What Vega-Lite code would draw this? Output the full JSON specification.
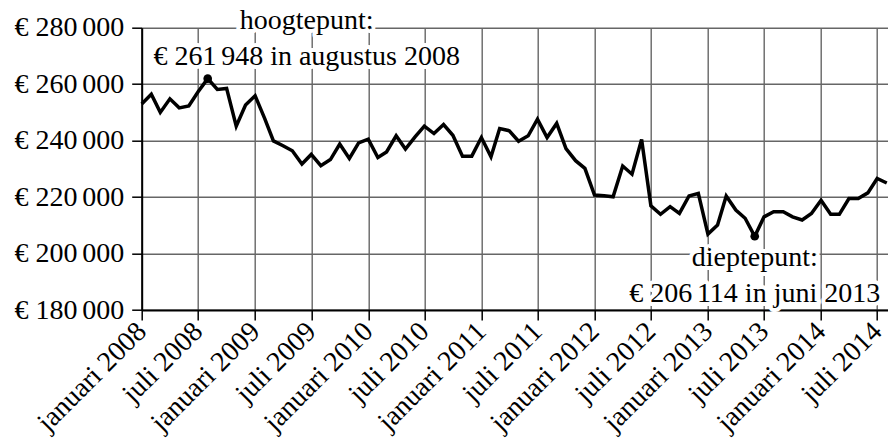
{
  "$schema": "https://vega.github.io/schema/vega-lite/v6.json",
  "width": 746.3,
  "height": 282.3,
  "autosize": {"type": "none"},
  "padding": {"left": 141.7, "top": 27.7, "right": 0, "bottom": 138},
  "background": "white",
  "config": {
    "view": {"stroke": null},
    "font": "Liberation Serif",
    "axis": {
      "labelFont": "Liberation Serif",
      "labelFontSize": 28,
      "labelColor": "black",
      "domainColor": "black",
      "domainWidth": 2,
      "tickColor": "black",
      "tickWidth": 1.5,
      "tickSize": 10,
      "gridColor": "#666666",
      "gridWidth": 1.4,
      "gridOpacity": 1,
      "title": null,
      "labelOverlap": false,
      "labelFlush": false,
      "labelBound": false
    }
  },
  "datasets": {
    "prijzen": [
      {"maand": "2008-01-01", "prijs": 253000},
      {"maand": "2008-02-01", "prijs": 256400},
      {"maand": "2008-03-01", "prijs": 250000},
      {"maand": "2008-04-01", "prijs": 254800},
      {"maand": "2008-05-01", "prijs": 251600},
      {"maand": "2008-06-01", "prijs": 252300},
      {"maand": "2008-07-01", "prijs": 257300},
      {"maand": "2008-08-01", "prijs": 261948},
      {"maand": "2008-09-01", "prijs": 258100},
      {"maand": "2008-10-01", "prijs": 258500},
      {"maand": "2008-11-01", "prijs": 245100},
      {"maand": "2008-12-01", "prijs": 252600},
      {"maand": "2009-01-01", "prijs": 255900},
      {"maand": "2009-02-01", "prijs": 247800},
      {"maand": "2009-03-01", "prijs": 239900},
      {"maand": "2009-04-01", "prijs": 238200},
      {"maand": "2009-05-01", "prijs": 236400},
      {"maand": "2009-06-01", "prijs": 231700},
      {"maand": "2009-07-01", "prijs": 235100},
      {"maand": "2009-08-01", "prijs": 231100},
      {"maand": "2009-09-01", "prijs": 233300},
      {"maand": "2009-10-01", "prijs": 238800},
      {"maand": "2009-11-01", "prijs": 233700},
      {"maand": "2009-12-01", "prijs": 239200},
      {"maand": "2010-01-01", "prijs": 240500},
      {"maand": "2010-02-01", "prijs": 234000},
      {"maand": "2010-03-01", "prijs": 236000},
      {"maand": "2010-04-01", "prijs": 241700},
      {"maand": "2010-05-01", "prijs": 237000},
      {"maand": "2010-06-01", "prijs": 241300},
      {"maand": "2010-07-01", "prijs": 245100},
      {"maand": "2010-08-01", "prijs": 242500},
      {"maand": "2010-09-01", "prijs": 245700},
      {"maand": "2010-10-01", "prijs": 241900},
      {"maand": "2010-11-01", "prijs": 234500},
      {"maand": "2010-12-01", "prijs": 234500},
      {"maand": "2011-01-01", "prijs": 241100},
      {"maand": "2011-02-01", "prijs": 234300},
      {"maand": "2011-03-01", "prijs": 244300},
      {"maand": "2011-04-01", "prijs": 243500},
      {"maand": "2011-05-01", "prijs": 239800},
      {"maand": "2011-06-01", "prijs": 241700},
      {"maand": "2011-07-01", "prijs": 247600},
      {"maand": "2011-08-01", "prijs": 241100},
      {"maand": "2011-09-01", "prijs": 246100},
      {"maand": "2011-10-01", "prijs": 237200},
      {"maand": "2011-11-01", "prijs": 232900},
      {"maand": "2011-12-01", "prijs": 230200},
      {"maand": "2012-01-01", "prijs": 220700},
      {"maand": "2012-02-01", "prijs": 220500},
      {"maand": "2012-03-01", "prijs": 220100},
      {"maand": "2012-04-01", "prijs": 231000},
      {"maand": "2012-05-01", "prijs": 228100},
      {"maand": "2012-06-01", "prijs": 240400},
      {"maand": "2012-07-01", "prijs": 216900},
      {"maand": "2012-08-01", "prijs": 213900},
      {"maand": "2012-09-01", "prijs": 216600},
      {"maand": "2012-10-01", "prijs": 214200},
      {"maand": "2012-11-01", "prijs": 220400},
      {"maand": "2012-12-01", "prijs": 221300},
      {"maand": "2013-01-01", "prijs": 206900},
      {"maand": "2013-02-01", "prijs": 210100},
      {"maand": "2013-03-01", "prijs": 220400},
      {"maand": "2013-04-01", "prijs": 215400},
      {"maand": "2013-05-01", "prijs": 212500},
      {"maand": "2013-06-01", "prijs": 206114},
      {"maand": "2013-07-01", "prijs": 213000},
      {"maand": "2013-08-01", "prijs": 214800},
      {"maand": "2013-09-01", "prijs": 214800},
      {"maand": "2013-10-01", "prijs": 213000},
      {"maand": "2013-11-01", "prijs": 211900},
      {"maand": "2013-12-01", "prijs": 214200},
      {"maand": "2014-01-01", "prijs": 218900},
      {"maand": "2014-02-01", "prijs": 213900},
      {"maand": "2014-03-01", "prijs": 213900},
      {"maand": "2014-04-01", "prijs": 219500},
      {"maand": "2014-05-01", "prijs": 219500},
      {"maand": "2014-06-01", "prijs": 221500},
      {"maand": "2014-07-01", "prijs": 226600},
      {"maand": "2014-08-01", "prijs": 225000}
    ],
    "extremen": [
      {"maand": "2008-08-01", "prijs": 261948, "soort": "hoog", "label": ["hoogtepunt:", "€ 261\u2006948 in augustus 2008"]},
      {"maand": "2013-06-01", "prijs": 206114, "soort": "laag", "label": ["dieptepunt:", "€ 206\u2006114 in juni 2013"]}
    ]
  },
  "encoding": {
    "x": {
      "field": "maand",
      "type": "temporal",
      "scale": {
        "type": "utc",
        "domain": [
          {"year": 2008, "month": 1, "date": 1, "utc": true},
          {"year": 2014, "month": 8, "date": 5, "utc": true}
        ]
      },
      "axis": {
        "values": [
          {"year": 2008, "month": 1, "date": 1, "utc": true},
          {"year": 2008, "month": 7, "date": 1, "utc": true},
          {"year": 2009, "month": 1, "date": 1, "utc": true},
          {"year": 2009, "month": 7, "date": 1, "utc": true},
          {"year": 2010, "month": 1, "date": 1, "utc": true},
          {"year": 2010, "month": 7, "date": 1, "utc": true},
          {"year": 2011, "month": 1, "date": 1, "utc": true},
          {"year": 2011, "month": 7, "date": 1, "utc": true},
          {"year": 2012, "month": 1, "date": 1, "utc": true},
          {"year": 2012, "month": 7, "date": 1, "utc": true},
          {"year": 2013, "month": 1, "date": 1, "utc": true},
          {"year": 2013, "month": 7, "date": 1, "utc": true},
          {"year": 2014, "month": 1, "date": 1, "utc": true},
          {"year": 2014, "month": 7, "date": 1, "utc": true}
        ],
        "labelExpr": "(utcmonth(datum.value) == 0 ? 'januari ' : 'juli ') + utcyear(datum.value)",
        "labelAngle": -45,
        "labelAlign": "right",
        "labelBaseline": "middle",
        "labelPadding": 7,
        "grid": true
      }
    },
    "y": {
      "field": "prijs",
      "type": "quantitative",
      "scale": {"domain": [180000, 280000], "nice": false, "zero": false},
      "axis": {
        "values": [180000, 200000, 220000, 240000, 260000, 280000],
        "labelExpr": "'€ ' + floor(datum.value / 1000) + '\u2006000'",
        "labelPadding": 8,
        "grid": true
      }
    }
  },
  "layer": [
    {
      "data": {"name": "prijzen"},
      "mark": {"type": "line", "color": "black", "strokeWidth": 3.5, "strokeJoin": "miter"}
    },
    {
      "data": {"name": "extremen"},
      "mark": {"type": "point", "filled": true, "color": "black", "size": 75, "opacity": 1}
    },
    {
      "data": {"name": "extremen"},
      "transform": [{"filter": "datum.soort == 'hoog'"}],
      "mark": {"type": "text", "align": "center", "baseline": "alphabetic", "dx": 99, "dy": -50, "fontSize": 28, "lineHeight": 36, "color": "white", "stroke": "white", "strokeWidth": 8, "strokeJoin": "round"},
      "encoding": {"text": {"field": "label"}}
    },
    {
      "data": {"name": "extremen"},
      "transform": [{"filter": "datum.soort == 'hoog'"}],
      "mark": {"type": "text", "align": "center", "baseline": "alphabetic", "dx": 99, "dy": -50, "fontSize": 28, "lineHeight": 36, "color": "black"},
      "encoding": {"text": {"field": "label"}}
    },
    {
      "data": {"name": "extremen"},
      "transform": [{"filter": "datum.soort == 'laag'"}],
      "mark": {"type": "text", "align": "center", "baseline": "alphabetic", "dx": 0, "dy": 30, "fontSize": 28, "lineHeight": 36, "color": "white", "stroke": "white", "strokeWidth": 8, "strokeJoin": "round"},
      "encoding": {"text": {"field": "label"}}
    },
    {
      "data": {"name": "extremen"},
      "transform": [{"filter": "datum.soort == 'laag'"}],
      "mark": {"type": "text", "align": "center", "baseline": "alphabetic", "dx": 0, "dy": 30, "fontSize": 28, "lineHeight": 36, "color": "black"},
      "encoding": {"text": {"field": "label"}}
    }
  ]
}
